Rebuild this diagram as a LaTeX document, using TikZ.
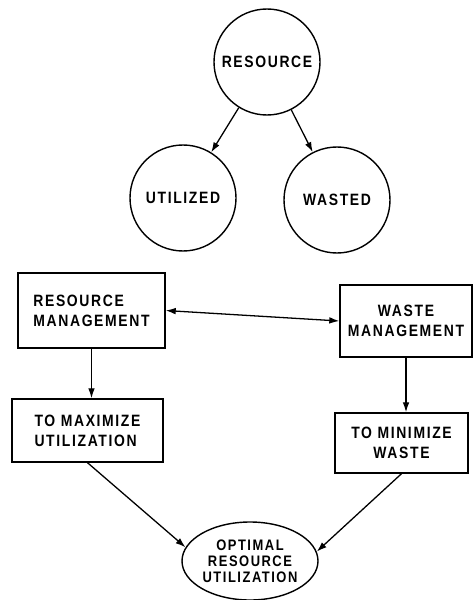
\documentclass[tikz,border=0pt]{standalone}
\usepackage{fontspec}
\setmainfont{Liberation Sans}[LetterSpace=10, FakeStretch=0.85]
\usetikzlibrary{arrows.meta,shapes.geometric}
\begin{document}
\begin{tikzpicture}[x=0.3mm, y=-0.3mm, >={Latex[length=3mm,width=2mm]},
        every node/.style={font=\bfseries\fontsize{14}{17}\selectfont},
        blob/.style={draw, circle, line width=1.2pt, minimum size=31.8mm, inner sep=0pt},
        box/.style={draw, rectangle, line width=1.2pt, inner sep=0pt},
        link/.style={line width=1.1pt, ->}]
                \useasboundingbox (0,0) rectangle (473,600);
                \node[blob] (res) at (267,62) {RESOURCE};
                \node[blob] (util) at (183,198) {UTILIZED};
                \node[blob] (wasted) at (337,200) {WASTED};
                \node[box, minimum width=44.1mm, minimum height=22.5mm, align=left] (rm) at (91.5,310.5) {RESOURCE\\MANAGEMENT};
                \node[box, minimum width=39.6mm, minimum height=21.6mm, align=center] (wm) at (406,321) {WASTE\\MANAGEMENT};
                \node[box, minimum width=45.3mm, minimum height=18.9mm, align=left] (maxu) at (87.5,430.5) {TO MAXIMIZE\\UTILIZATION};
                \node[box, minimum width=39.9mm, minimum height=18mm, align=center] (minw) at (401.5,443) {TO MINIMIZE\\WASTE};
                \node[draw, ellipse, line width=1.2pt, minimum width=40.8mm, minimum height=23.4mm, inner sep=0pt, align=center,
                    font=\bfseries\fontsize{13}{13.5}\selectfont] (opt) at (250,561) {OPTIMAL\\RESOURCE\\UTILIZATION};
                \draw[link] (res) -- (util);
                \draw[link] (res) -- (wasted);
                \draw[link, <->] (rm.east) -- (wm.west);
                \draw[link] (rm.south) -- (rm.south |- maxu.north);
                \draw[link] (wm.south) -- (wm.south |- minw.north);
                \draw[link] (maxu.south) -- (opt.168);
                \draw[link] (minw.south) -- (opt.8);
            \end{tikzpicture}
\end{document}
